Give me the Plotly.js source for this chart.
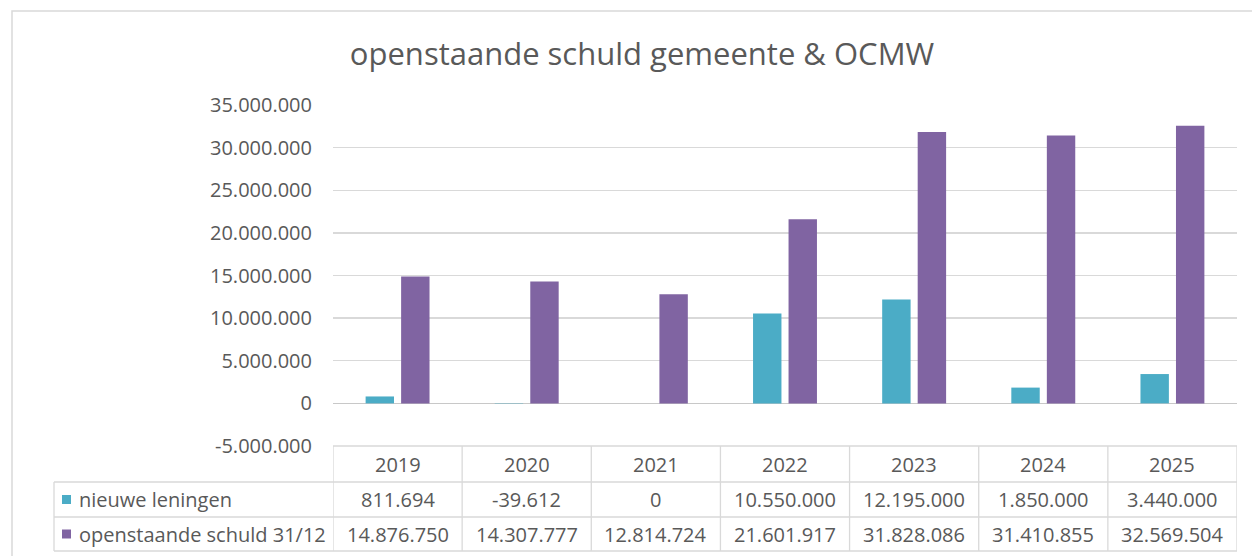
<!DOCTYPE html>
<html>
<head>
<meta charset="utf-8">
<script src="https://cdn.plot.ly/plotly-3.0.1.min.js"></script>
<style>
  body { margin: 0; background: #fff; }
  #chart { width: 1252px; height: 556px; }
</style>
</head>
<body>
<div id="chart"></div>
<script>
// data
const years = ["2019", "2020", "2021", "2022", "2023", "2024", "2025"];
const nieuweLeningen = [811694, -39612, 0, 10550000, 12195000, 1850000, 3440000];
const openstaandeSchuld = [14876750, 14307777, 12814724, 21601917, 31828086, 31410855, 32569504];
const seriesNames = ["nieuwe leningen", "openstaande schuld 31/12"];
const seriesColors = ["#4bacc6", "#8064a2"];
const yTickVals = [-5000000, 0, 5000000, 10000000, 15000000, 20000000, 25000000, 30000000, 35000000];
const yTickText = ["-5.000.000", "0", "5.000.000", "10.000.000", "15.000.000", "20.000.000",
  "25.000.000", "30.000.000", "35.000.000"];

// plot area in pixels
const W = 1252, H = 556;
const L = 333, R = 1237, T = 105, B = 446;
const px = (x) => (x - L) / (R - L);
const py = (y) => (B - y) / (B - T);

const textColor = "#595959";
const lineColor = "#d9d9d9";
const font = "Open Sans, sans-serif";
const fs = 20;

function fmt(n) {
  const s = Math.abs(n).toString().replace(/\B(?=(\d{3})+(?!\d))/g, ".");
  return (n < 0 ? "-" : "") + s;
}

const traces = [nieuweLeningen, openstaandeSchuld].map((vals, i) => ({
  type: "bar",
  x: years,
  y: vals,
  name: seriesNames[i],
  marker: { color: seriesColors[i] },
  hoverinfo: "skip"
}));

// table rows (pixel tops)
const rowLines = [446, 482, 517, 551];
const rowCenters = [464, 499.5, 534];

const shapes = [];
const annotations = [];

// outer chart border
shapes.push({
  type: "rect", xref: "paper", yref: "paper",
  x0: px(12), x1: px(1260), y0: py(570), y1: py(11),
  line: { color: "#d9d9d9", width: 1.5 }, fillcolor: "rgba(0,0,0,0)", layer: "below"
});

// horizontal table lines
shapes.push({ type: "line", xref: "paper", yref: "paper", x0: 0, x1: 1,
  y0: py(rowLines[0]), y1: py(rowLines[0]), line: { color: lineColor, width: 1.3 } });
for (let r = 1; r < rowLines.length; r++) {
  shapes.push({ type: "line", xref: "paper", yref: "paper", x0: px(54), x1: 1,
    y0: py(rowLines[r]), y1: py(rowLines[r]), line: { color: lineColor, width: 1.3 } });
}
// vertical table lines, on category boundaries
for (let k = 0; k <= years.length; k++) {
  shapes.push({ type: "line", xref: "x", yref: "paper", x0: k - 0.5, x1: k - 0.5,
    y0: py(rowLines[0]), y1: py(rowLines[3]), line: { color: lineColor, width: 1.3 } });
}
shapes.push({ type: "line", xref: "paper", yref: "paper", x0: px(54), x1: px(54),
  y0: py(rowLines[1]), y1: py(rowLines[3]), line: { color: lineColor, width: 1.3 } });

// header years
years.forEach((yr, j) => {
  annotations.push({ xref: "x", yref: "paper", x: j, y: py(rowCenters[0]), text: yr,
    xanchor: "center", yanchor: "middle",
    showarrow: false, font: { family: font, size: fs, color: textColor } });
});
// value rows
[nieuweLeningen, openstaandeSchuld].forEach((vals, i) => {
  vals.forEach((v, j) => {
    annotations.push({ xref: "x", yref: "paper", x: j, y: py(rowCenters[i + 1]),
      xanchor: "center", yanchor: "middle",
      text: fmt(v), showarrow: false, font: { family: font, size: fs, color: textColor } });
  });
  // legend key + label
  shapes.push({ type: "rect", xref: "paper", yref: "paper",
    x0: px(62), x1: px(71), y0: py(rowCenters[i + 1] + 4.5), y1: py(rowCenters[i + 1] - 4.5),
    fillcolor: seriesColors[i], line: { width: 0 } });
  annotations.push({ xref: "paper", yref: "paper", x: px(77), y: py(rowCenters[i + 1]),
    xanchor: "left", yanchor: "middle", text: seriesNames[i], showarrow: false,
    font: { family: font, size: fs, color: textColor } });
});

const layout = {
  width: W, height: H,
  margin: { l: L, r: W - R, t: T, b: H - B },
  paper_bgcolor: "#fff",
  plot_bgcolor: "#fff",
  showlegend: false,
  barmode: "group",
  bargap: 0.45,
  bargroupgap: 0.2,
  title: {
    text: "openstaande schuld gemeente & OCMW",
    font: { family: font, size: 31, color: textColor },
    xref: "container", x: 642 / W, xanchor: "center",
    yref: "container", y: 1 - 54 / H, yanchor: "middle"
  },
  xaxis: {
    type: "category",
    range: [-0.5, years.length - 0.5],
    showticklabels: false,
    showgrid: false,
    zeroline: false,
    showline: false,
    ticks: ""
  },
  yaxis: {
    range: [-5000000, 35000000],
    tickvals: yTickVals,
    ticktext: yTickText,
    tickfont: { family: font, size: fs, color: textColor },
    ticks: "",
    ticklabelstandoff: 20,
    showgrid: true,
    gridcolor: lineColor,
    gridwidth: 1.3,
    zeroline: true,
    zerolinecolor: "#c8c8c8",
    zerolinewidth: 1.3,
    showline: false
  },
  shapes: shapes,
  annotations: annotations
};

Plotly.newPlot("chart", traces, layout, { displayModeBar: false, staticPlot: true });
</script>
</body>
</html>
